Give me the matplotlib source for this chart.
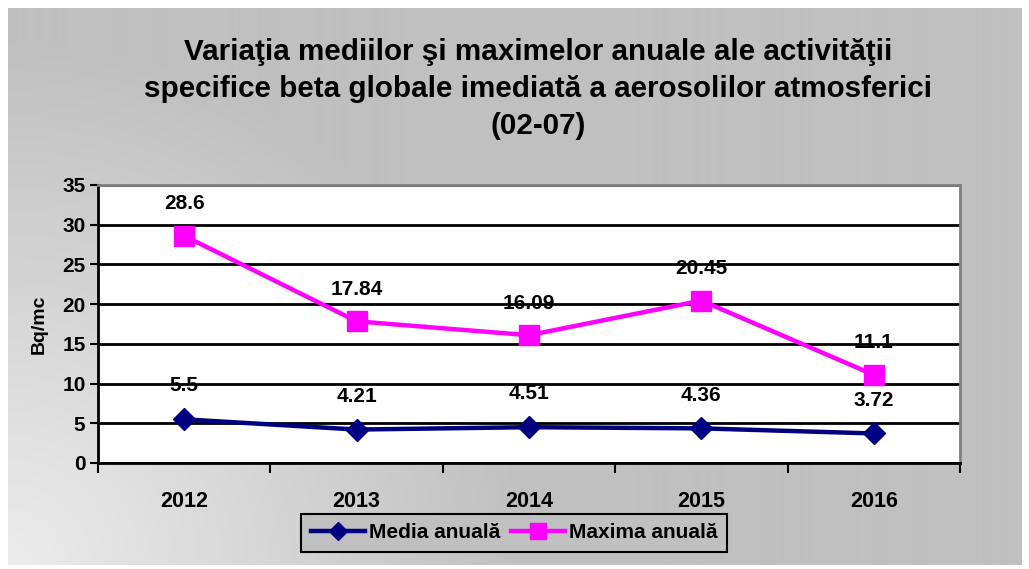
import numpy as np
import matplotlib
matplotlib.use("Agg")
import matplotlib.pyplot as plt

years = ["2012", "2013", "2014", "2015", "2016"]
media = [5.5, 4.21, 4.51, 4.36, 3.72]
maxima = [28.6, 17.84, 16.09, 20.45, 11.1]
media_labels = ["5.5", "4.21", "4.51", "4.36", "3.72"]
maxima_labels = ["28.6", "17.84", "16.09", "20.45", "11.1"]
title = ("Variaţia mediilor şi maximelor anuale ale activităţii\n"
         "specifice beta globale imediată a aerosolilor atmosferici\n(02-07)")

plt.rcParams['font.family'] = ['Liberation Sans', 'DejaVu Sans']
plt.rcParams['font.weight'] = 'bold'

W, H = 1029, 569
fig = plt.figure(figsize=(W/100, H/100), dpi=100)
fig.patch.set_facecolor('white')

# background gradient panel
bg = fig.add_axes([8/W, 1-565/H, 1013/W, 557/H])
yy, xx = np.mgrid[0:557, 0:1013]
d = np.sqrt((xx - 0)**2 + (yy - 557)**2)
t = np.clip(1 - d/520, 0, 1)
g = (0xC0 + (0xEC - 0xC0) * t) / 255
img = np.dstack([g, g, g])
bg.imshow(img, aspect='auto', origin='upper', extent=[0, 1, 0, 1])
bg.set_axis_off()

ax = fig.add_axes([98/W, 1-463/H, (960-98)/W, (463-185)/H])
ax.set_facecolor('white')
x = np.arange(len(years))
ax.plot(x, media, color='#000080', lw=3.2, marker='D', ms=11, label='Media anuală', zorder=3)
ax.plot(x, maxima, color='#FF00FF', lw=3.2, marker='s', ms=14, label='Maxima anuală', zorder=3)

for xi, v, s in zip(x, media, media_labels):
    ax.annotate(s, (xi, v), xytext=(0, 24), textcoords='offset points', ha='center', va='center',
                fontsize=15, fontweight='bold')
for xi, v, s in zip(x, maxima, maxima_labels):
    ax.annotate(s, (xi, v), xytext=(0, 23), textcoords='offset points', ha='center', va='center',
                fontsize=15, fontweight='bold')

ax.set_xlim(-0.5, len(years) - 0.5)
ax.set_ylim(0, 35)
ax.set_yticks(np.arange(0, 36, 5))
ax.yaxis.grid(True, color='black', lw=2)
ax.set_axisbelow(True)
ax.set_xticks(x)
ax.set_xticklabels(years, fontsize=15.5, fontweight='bold')
ax.set_xticks(np.arange(-0.5, len(years), 1), minor=True)
ax.tick_params(axis='x', which='major', length=0, pad=20)
ax.tick_params(axis='x', which='minor', length=7, width=1.5, direction='out')
ax.tick_params(axis='y', length=6, width=1.5, labelsize=15, pad=3)
for lab in ax.get_yticklabels():
    lab.set_fontweight('bold')
ax.spines['left'].set_color('black')
ax.spines['left'].set_linewidth(2)
ax.spines['bottom'].set_color('black')
ax.spines['bottom'].set_linewidth(2)
ax.spines['top'].set_color('#808080')
ax.spines['top'].set_linewidth(2)
ax.spines['right'].set_color('#808080')
ax.spines['right'].set_linewidth(2)
ax.set_ylabel('Bq/mc', fontsize=14, fontweight='bold', labelpad=10)

fig.text(538/W, 1-89/H, title, ha='center', va='center', fontsize=21.3, fontweight='bold',
         linespacing=1.42)

leg = fig.legend(loc='center', bbox_to_anchor=(514/W, 1-533/H), ncol=2, frameon=True,
                 fancybox=False, edgecolor='black', facecolor='#C0C0C0', framealpha=1,
                 prop={'weight': 'bold', 'size': 15}, handlelength=2.6, handletextpad=0.2,
                 columnspacing=0.5, borderpad=0.45, markerscale=0.8)
leg.get_frame().set_linewidth(1.5)

fig.savefig('out.png', dpi=100)
